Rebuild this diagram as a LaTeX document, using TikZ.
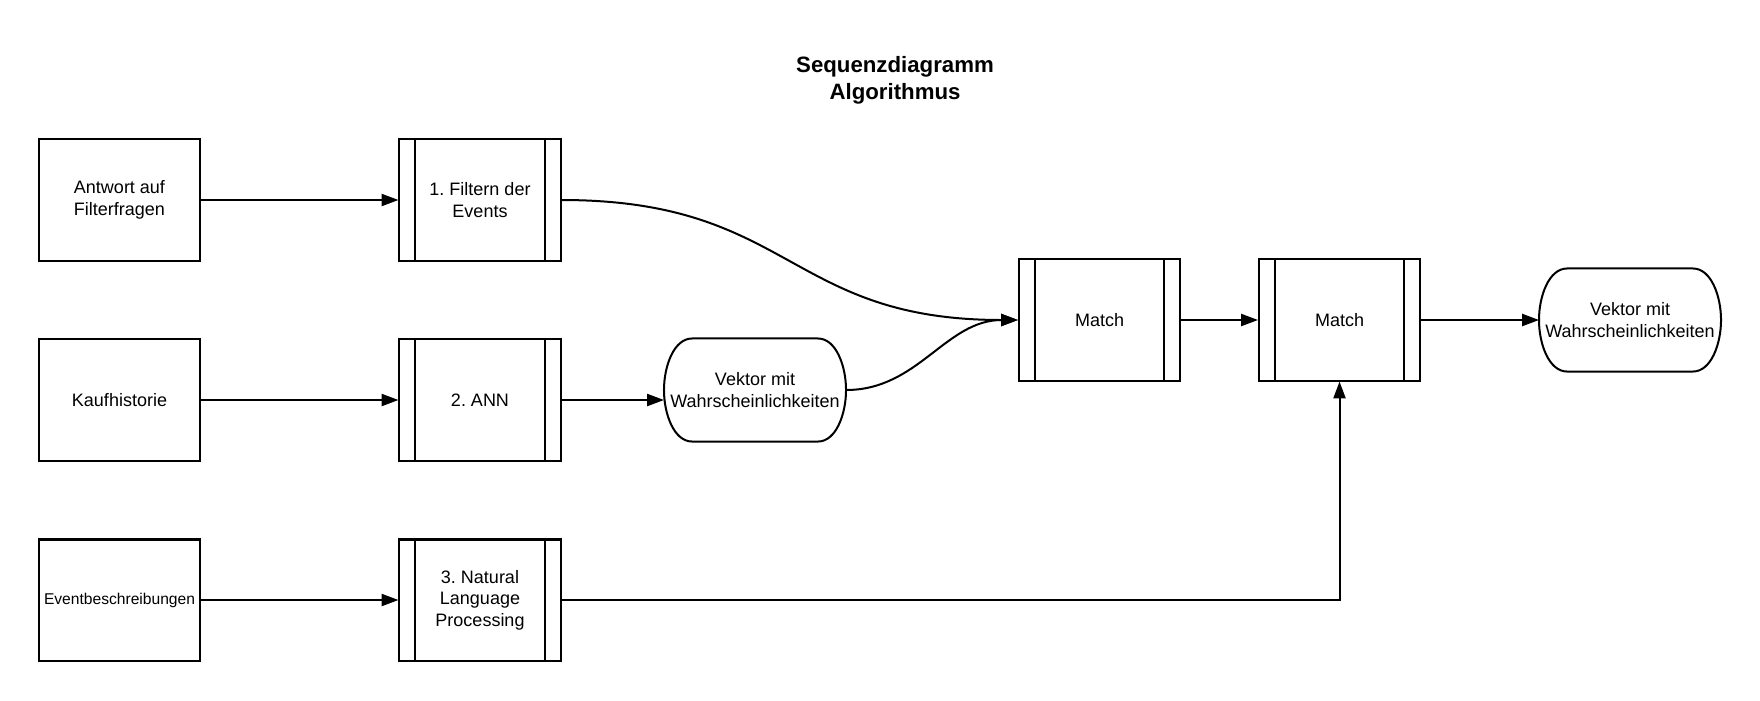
\documentclass[tikz,border=0pt]{standalone}
\usepackage{fontspec}
\setmainfont{Liberation Sans}
\usetikzlibrary{arrows.meta}
\frenchspacing

% Umriss der abgerundeten Ergebnis-Knoten
\newcommand{\vekrand}[1]{%
  \draw ([xshift=0.7cm]#1.north west) -- ([xshift=-0.7cm]#1.north east)
    .. controls +(0.45cm,0) and +(0,0.6cm) .. (#1.east)
    .. controls +(0,-0.6cm) and +(0.45cm,0) .. ([xshift=-0.7cm]#1.south east)
    -- ([xshift=0.7cm]#1.south west)
    .. controls +(-0.45cm,0) and +(0,-0.6cm) .. (#1.west)
    .. controls +(0,0.6cm) and +(-0.45cm,0) .. cycle;}

\begin{document}
\begin{tikzpicture}[x=0.025cm, y=-0.025cm, line width=0.05cm,
	>={Triangle[length=0.42cm, width=0.3cm]},
	every node/.style={font=\fontsize{12.8}{15.3}\selectfont},
	box/.style={draw, minimum width=4.025cm, minimum height=3.025cm, align=center, inner sep=1pt},
	process/.style={box, path picture={
		\draw ([xshift=0.4cm]path picture bounding box.north west) -- ([xshift=0.4cm]path picture bounding box.south west)
		      ([xshift=-0.4cm]path picture bounding box.north east) -- ([xshift=-0.4cm]path picture bounding box.south east);}},
	vektor/.style={minimum width=4.5cm, minimum height=2.525cm, inner sep=0pt, align=center}]
	\useasboundingbox (0,0) rectangle (1760,700);
	\node[align=center, font=\bfseries\fontsize{15.8}{19.2}\selectfont] (titel) at (895,80.5) {Sequenzdiagramm\\Algorithmus};
	% Eingaben
	\node[box] (antwort) at (119.5,200) {Antwort auf\\Filterfragen};
	\node[box] (kauf) at (119.5,400) {Kaufhistorie};
	\node[box, font=\fontsize{11.1}{13}\selectfont] (eventb) at (119.5,600) {Eventbeschreibungen};
	% Verarbeitung
	\node[process] (filtern) at (480,200) {1. Filtern der\\Events};
	\node[process] (ann) at (480,400) {2. ANN};
	\node[process] (nlp) at (480,600) {3. Natural\\Language\\Processing};
	\node[vektor] (vek1) at (755,390) {Vektor mit\\Wahrscheinlichkeiten};
	\vekrand{vek1}
	\node[process] (match1) at (1099.5,320) {Match};
	\node[process] (match2) at (1339.5,320) {Match};
	\node[vektor] (vek2) at (1630,320) {Vektor mit\\Wahrscheinlichkeiten};
	\vekrand{vek2}
	% Verbindungen
	\draw[->] (antwort) -- (filtern);
	\draw[->] (kauf) -- (ann);
	\draw[->] (eventb) -- (nlp);
	\draw[->] (ann.east) -- (ann.east -| vek1.west);
	\draw[->] (filtern.east) to[out=0, in=180, looseness=1.25] (match1.west);
	\draw[->] (vek1.east) to[out=0, in=180] (match1.west);
	\draw[->] (match1) -- (match2);
	\draw[->] (match2) -- (vek2);
	\draw[->] (nlp.east) -| (match2.south);
\end{tikzpicture}
\end{document}
